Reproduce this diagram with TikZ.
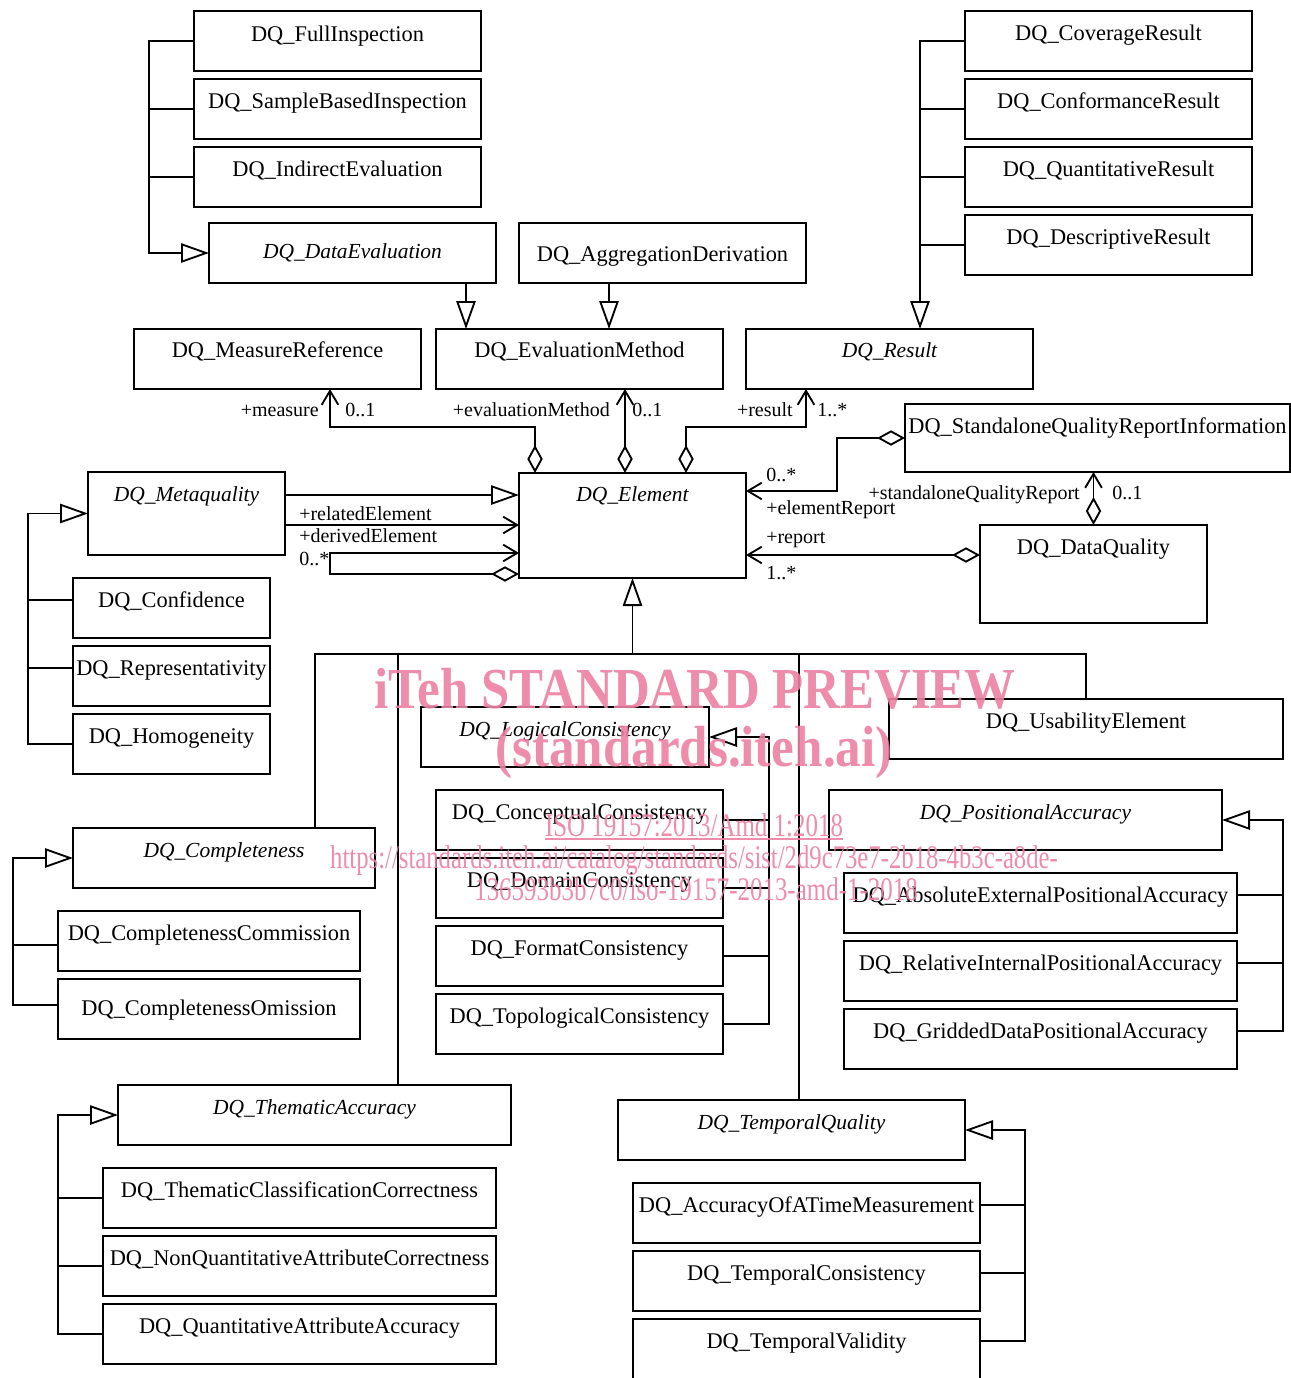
\documentclass[tikz,border=0pt]{standalone}
\usepackage{fontspec}
\setmainfont{Liberation Serif}
\usetikzlibrary{arrows.meta,calc,fit}
\definecolor{wm}{RGB}{236,128,162}
\newcommand\clsbox[5]{%
  \node[cls, fit={#2 #3}] (#1) {};
  \node[ctext, anchor=base] (#1-t) at ($(#1.north)+(0,#4)$) {#5};}
\newcommand\abst[1]{{\fontsize{16.1}{20}\selectfont\itshape #1}}
\tikzset{
  cls/.style={draw, line width=1.4pt, inner sep=0pt, outer sep=0pt},
  ctext/.style={font=\fontsize{16.8}{20}\selectfont, inner sep=0pt},
  lbl/.style={font=\fontsize{15}{18}\selectfont, inner sep=0pt},
  conn/.style={line width=1.4pt},
  gen/.style={conn, -{Triangle[open, length=21pt, width=14.5pt]}},
  nav/.style={conn, -{Straight Barb[length=10.5pt, width=12.5pt]}},
  aggnav/.style={conn, {Diamond[open, length=21pt, width=11.5pt]}-{Straight Barb[length=10.5pt, width=12.5pt]}},
  wmk/.style={text=wm, inner sep=0pt, text opacity=0.9},
}
\begin{document}
\begin{tikzpicture}[x=0.75pt, y=-0.75pt]
\useasboundingbox (0,0) rectangle (1291,1378);

% ---- classes ----
\clsbox{fullinsp}{(194,11)}{(481,71)}{30}{DQ\_FullInspection}
\clsbox{sampinsp}{(194,79)}{(481,139)}{29}{DQ\_SampleBasedInspection}
\clsbox{indeval}{(194,147)}{(481,207)}{29}{DQ\_IndirectEvaluation}
\clsbox{dataeval}{(209,223)}{(496,283)}{35}{\abst{DQ\_DataEvaluation}}
\clsbox{aggder}{(519,223)}{(806,283)}{38}{DQ\_AggregationDerivation}
\clsbox{coverage}{(965,11)}{(1252,71)}{29}{DQ\_CoverageResult}
\clsbox{conform}{(965,79)}{(1252,139)}{29}{DQ\_ConformanceResult}
\clsbox{quantres}{(965,147)}{(1252,207)}{29}{DQ\_QuantitativeResult}
\clsbox{descres}{(965,215)}{(1252,275)}{29}{DQ\_DescriptiveResult}
\clsbox{measref}{(134,329)}{(421,389)}{28}{DQ\_MeasureReference}
\clsbox{evalm}{(436,329)}{(723,389)}{28}{DQ\_EvaluationMethod}
\clsbox{result}{(746,329)}{(1033,389)}{28}{\abst{DQ\_Result}}
\clsbox{sqri}{(905,404)}{(1290,472)}{29}{DQ\_StandaloneQualityReportInformation}
\clsbox{elem}{(519,473)}{(746,578)}{28}{\abst{DQ\_Element}}
\clsbox{meta}{(88,472)}{(285,555)}{29}{\abst{DQ\_Metaquality}}
\clsbox{dq}{(980,525)}{(1207,623)}{29}{DQ\_DataQuality}
\clsbox{conf}{(73,578)}{(270,638)}{29}{DQ\_Confidence}
\clsbox{repr}{(73,646)}{(270,706)}{29}{DQ\_Representativity}
\clsbox{homog}{(73,714)}{(270,774)}{29}{DQ\_Homogeneity}
\clsbox{usab}{(889,699)}{(1283,759)}{29}{DQ\_UsabilityElement}
\clsbox{lc}{(421,707)}{(709,767)}{29}{\abst{DQ\_LogicalConsistency}}
\clsbox{concc}{(436,790)}{(723,850)}{29}{DQ\_ConceptualConsistency}
\clsbox{domc}{(436,858)}{(723,918)}{29}{DQ\_DomainConsistency}
\clsbox{fmtc}{(436,926)}{(723,986)}{29}{DQ\_FormatConsistency}
\clsbox{topc}{(436,994)}{(723,1054)}{29}{DQ\_TopologicalConsistency}
\clsbox{pa}{(829,790)}{(1222,850)}{29}{\abst{DQ\_PositionalAccuracy}}
\clsbox{aepa}{(844,873)}{(1237,933)}{29}{DQ\_AbsoluteExternalPositionalAccuracy}
\clsbox{ripa}{(844,941)}{(1237,1001)}{29}{DQ\_RelativeInternalPositionalAccuracy}
\clsbox{gdpa}{(844,1009)}{(1237,1069)}{29}{DQ\_GriddedDataPositionalAccuracy}
\clsbox{comp}{(73,828)}{(375,888)}{29}{\abst{DQ\_Completeness}}
\clsbox{compc}{(58,911)}{(360,971)}{29}{DQ\_CompletenessCommission}
\clsbox{compo}{(58,979)}{(360,1039)}{36}{DQ\_CompletenessOmission}
\clsbox{them}{(118,1085)}{(511,1145)}{29}{\abst{DQ\_ThematicAccuracy}}
\clsbox{tcc}{(103,1168)}{(496,1228)}{29}{DQ\_ThematicClassificationCorrectness}
\clsbox{nqac}{(103,1236)}{(496,1296)}{29}{DQ\_NonQuantitativeAttributeCorrectness}
\clsbox{qaa}{(103,1304)}{(496,1364)}{29}{DQ\_QuantitativeAttributeAccuracy}
\clsbox{tq}{(618,1100)}{(965,1160)}{29}{\abst{DQ\_TemporalQuality}}
\clsbox{aotm}{(633,1183)}{(980,1243)}{29}{DQ\_AccuracyOfATimeMeasurement}
\clsbox{tcons}{(633,1251)}{(980,1311)}{29}{DQ\_TemporalConsistency}
\clsbox{tval}{(633,1319)}{(980,1400)}{29}{DQ\_TemporalValidity}

% ---- generalizations: evaluation ----
\draw[gen] (fullinsp.west) -- ++(-45,0) |- (dataeval.west);
\draw[conn] (sampinsp.west) -- ++(-45,0);
\draw[conn] (indeval.west) -- ++(-45,0);
\draw[gen] ($(dataeval.south east)+(-30,0)$) -- ($(evalm.north west)+(30,0)$);
\draw[gen] ($(aggder.south west)+(90,0)$) -- ($(evalm.north west)+(173,0)$);

% ---- generalizations: result ----
\draw[gen] (coverage.west) -- ++(-45,0) coordinate (rbus) -- (rbus |- result.north);
\draw[conn] (conform.west) -- ++(-45,0);
\draw[conn] (quantres.west) -- ++(-45,0);
\draw[conn] (descres.west) -- ++(-45,0);

% ---- associations of DQ_Element ----
\draw[aggnav] ($(elem.north west)+(16,0)$) -- ++(0,-46) -| ($(measref.south west)+(196,0)$);
\draw[aggnav] ($(elem.north west)+(106,0)$) -- ($(evalm.south west)+(189,0)$);
\draw[aggnav] ($(elem.north west)+(167,0)$) -- ++(0,-46) -| ($(result.south west)+(60,0)$);
\draw[aggnav] (sqri.west) -- ++(-68,0) |- ($(elem.north east)+(0,18)$);
\draw[aggnav] ($(dq.north west)+(0,30)$) -- ($(elem.north east)+(0,82)$);
\draw[aggnav] (dq.north) -- (dq.north |- sqri.south);

\node[lbl, anchor=base east] (l1) at (319,416) {+measure};
\node[lbl, anchor=base west] (l2) at (345,416) {0..1};
\node[lbl, anchor=base east] (l3) at (610,416) {+evaluationMethod};
\node[lbl, anchor=base west] (l4) at (632,416) {0..1};
\node[lbl, anchor=base east] (l5) at (793,416) {+result};
\node[lbl, anchor=base west] (l6) at (817,416) {1..*};
\node[lbl, anchor=base west] (l7) at (766,481) {0..*};
\node[lbl, anchor=base west] (l8) at (766,514) {+elementReport};
\node[lbl, anchor=base west] (l9) at (766,543) {+report};
\node[lbl, anchor=base west] (l10) at (766,579) {1..*};
\node[lbl, anchor=base east] (l11) at (1080,499) {+standaloneQualityReport};
\node[lbl, anchor=base west] (l12) at (1112,499) {0..1};

% ---- metaquality ----
\draw[gen] ($(meta.north east)+(0,23)$) -- ($(elem.north west)+(0,22)$);
\draw[nav] ($(meta.north east)+(0,53)$) -- ($(elem.north west)+(0,52)$);
\draw[aggnav] ($(elem.north west)+(0,101)$) -- ++(-189,0) -- ++(0,-21) -- ($(elem.north west)+(0,80)$);
\node[lbl, anchor=base west] (l13) at (299,520) {+relatedElement};
\node[lbl, anchor=base west] (l14) at (299,542) {+derivedElement};
\node[lbl, anchor=base west] (l15) at (299,565) {0..*};

\draw[gen] (homog.west) -- ++(-45,0) |- (meta.west);
\draw[conn] ($(conf.north west)+(0,22)$) -- ++(-45,0);
\draw[conn] ($(repr.north west)+(0,22)$) -- ++(-45,0);

% ---- element subclasses tree ----
\coordinate (tbar) at ($(elem.south)+(0,76)$);
\draw[gen] (tbar) -- (elem.south);
\draw[conn] ($(comp.north east)+(-60,0)$) |- (tbar) -| (usab.north);
\draw[conn] ($(them.north west)+(280,0)$) |- (tbar);
\draw[conn] ($(tq.north west)+(181,0)$) |- (tbar);

% ---- logical consistency ----
\draw[gen] (topc.east) -- ++(46,0) |- (lc.east);
\draw[conn] (concc.east) -- ++(46,0);
\draw[conn] (domc.east) -- ++(46,0);
\draw[conn] (fmtc.east) -- ++(46,0);

% ---- positional accuracy ----
\draw[gen] ($(gdpa.north east)+(0,22)$) -- ++(46,0) |- (pa.east);
\draw[conn] ($(aepa.north east)+(0,22)$) -- ++(46,0);
\draw[conn] ($(ripa.north east)+(0,22)$) -- ++(46,0);

% ---- completeness ----
\draw[gen] ($(compo.north west)+(0,26)$) -- ++(-45,0) |- (comp.west);
\draw[conn] ($(compc.north west)+(0,34)$) -- ++(-45,0);

% ---- thematic accuracy ----
\draw[gen] (qaa.west) -- ++(-45,0) |- (them.west);
\draw[conn] (tcc.west) -- ++(-45,0);
\draw[conn] (nqac.west) -- ++(-45,0);

% ---- temporal quality ----
\draw[gen] ($(tval.north east)+(0,22)$) -- ++(45,0) |- (tq.east);
\draw[conn] ($(aotm.north east)+(0,22)$) -- ++(45,0);
\draw[conn] ($(tcons.north east)+(0,22)$) -- ++(45,0);

% ---- watermark ----
\node[wmk, anchor=base, font=\fontsize{43.5}{50}\selectfont\bfseries] (wm1) at (695,708) {\scalebox{0.877}[1]{iTeh STANDARD PREVIEW}};
\node[wmk, anchor=base, font=\fontsize{43.5}{50}\selectfont\bfseries] (wm2) at (694,766) {\scalebox{0.88}[1]{(standards.iteh.ai)}};
\node[wmk, anchor=base, font=\fontsize{24.75}{28}\selectfont] (wm3) at (694,836) {\scalebox{0.756}[1]{ISO 19157:2013/Amd 1:2018}};
\draw[wm, line width=1pt, opacity=0.9] ($(wm3.base west)+(0,3)$) -- ($(wm3.base east)+(0,3)$);
\node[wmk, anchor=base, font=\fontsize{24.75}{28}\selectfont] (wm4) at (694,868) {\scalebox{0.749}[1]{https://standards.iteh.ai/catalog/standards/sist/2d9c73e7-2b18-4b3c-a8de-}};
\node[wmk, anchor=base, font=\fontsize{24.75}{28}\selectfont] (wm5) at (696,900) {\scalebox{0.756}[1]{136593b3b7c0/iso-19157-2013-amd-1-2018}};
\end{tikzpicture}
\end{document}
